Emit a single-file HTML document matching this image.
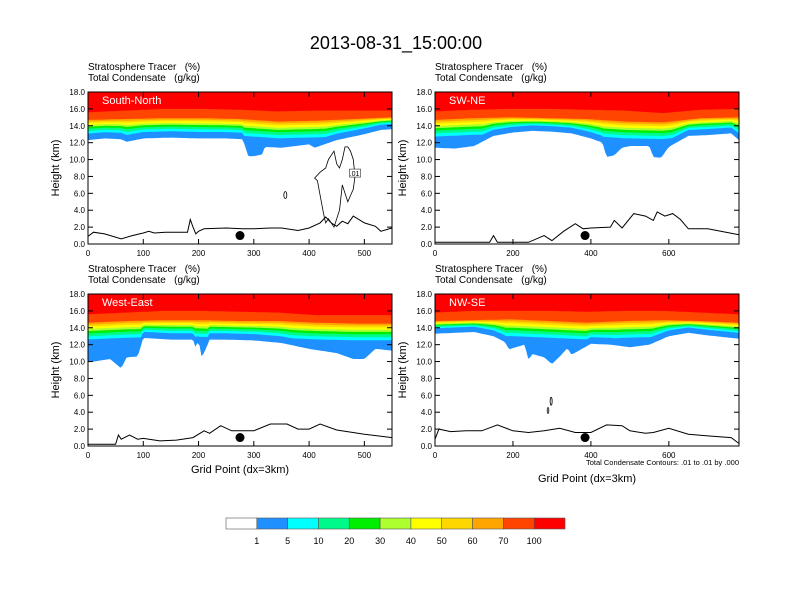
<!DOCTYPE html>
<html><head><meta charset="utf-8"><style>
body{margin:0;background:#fff;}
svg{display:block;font-family:"Liberation Sans",sans-serif;}
</style></head><body>
<svg id="chart" width="792" height="612" xmlns="http://www.w3.org/2000/svg">
<text x="396" y="49" font-size="18" text-anchor="middle">2013-08-31_15:00:00</text>
<text x="739" y="465" font-size="7.5" text-anchor="end">Total Condensate Contours: .01 to .01 by .000</text>
</svg>
<script>
// ---- data ----
const levelLabels = ["1","5","10","20","30","40","50","60","70","100"];
const levelColors = ["#1e90ff","#00ffff","#00fa8a","#00ee00","#adff2f","#ffff00","#ffd700","#ffa500","#ff4500","#ff0000"];
const panelNames = ["South-North","SW-NE","West-East","NW-SE"];
const panelXMax = [550,780,550,780];
const xTicksLeft = [0,100,200,300,400,500];
const xTicksRight = [0,200,400,600];
const yTicks = [0,2,4,6,8,10,12,14,16,18];
// tracer 1% lower boundary (km) at sample grid points
const baseX = [
 [0,30,60,70,100,150,200,250,280,290,300,315,320,350,400,410,450,500,530,550],
 [0,50,100,150,200,250,300,350,400,430,440,460,480,500,550,560,580,600,650,700,760,780],
 [0,10,40,60,70,90,100,150,190,195,200,205,210,220,250,300,350,400,450,480,500,520,550],
 [0,50,100,150,180,190,200,230,240,250,280,300,320,340,350,400,450,500,550,600,650,700,780]
];
const baseH = [
 [12.3,12.5,12.4,12.1,12.5,12.6,12.5,12.5,12.4,10.4,10.4,10.6,11.5,11.4,11.8,11.4,12.3,13.0,13.5,13.6],
 [11.4,11.3,11.6,12.8,13.2,13.4,13.3,13.1,12.5,12.0,10.3,10.5,11.4,11.6,11.6,10.3,10.2,11.5,12.8,12.9,13.1,12.3],
 [10.0,10.0,10.3,9.2,10.5,10.6,12.8,12.6,12.6,11.6,12.6,10.6,11.0,12.6,12.6,12.5,12.2,11.5,11.0,10.3,10.3,11.5,11.3],
 [13.3,13.4,13.5,13.0,12.3,11.4,11.6,12.0,10.2,10.9,10.5,9.7,10.6,11.6,10.8,12.1,12.0,11.7,12.0,13.0,13.4,13.1,12.7]
];
// 70% boundary (orange-red start) and red start
const topH = [
 [14.7,14.8,14.9,14.9,14.8,14.5,14.6,14.8,15.0],
 [14.7,14.9,15.0,14.9,14.8,14.5,14.4,14.9,15.0],
 [14.6,14.8,14.9,14.9,14.8,14.8,14.6,14.5,14.5],
 [14.8,14.9,15.0,14.8,14.6,14.8,14.9,14.8,14.6]
];
const redH = [
 [15.6,15.8,16.0,16.0,15.9,15.7,15.8,15.8,15.8],
 [15.7,15.9,16.0,16.0,15.9,15.8,15.5,15.9,16.0],
 [15.6,15.8,16.0,16.0,15.9,15.8,15.5,15.5,15.5],
 [15.8,16.0,16.0,16.0,15.9,16.0,16.0,15.8,15.6]
];
// terrain height (km)
const terrX = [
 [0,10,30,60,80,100,110,120,140,180,185,190,195,200,210,250,280,300,330,350,380,400,420,430,440,450,460,470,480,500,520,530,550],
 [0,140,150,160,240,280,300,330,360,380,400,450,460,480,510,540,560,570,590,610,630,650,700,780],
 [0,50,55,60,75,90,100,130,160,190,210,220,240,260,300,330,360,380,400,420,450,500,550],
 [0,10,40,80,120,160,200,240,280,320,360,400,440,480,500,540,560,600,650,700,760,780]
];
const terrH = [
 [0.9,1.4,1.2,0.6,1.0,1.3,1.5,1.3,1.4,1.4,2.9,2.0,1.2,1.5,1.8,1.9,1.8,1.8,1.9,1.9,1.6,1.9,2.5,3.2,2.5,2.1,2.7,2.4,3.3,2.5,2.1,1.5,1.9],
 [0.2,0.2,1.0,0.2,0.2,1.0,0.4,1.5,2.4,1.8,1.9,2.0,2.8,1.9,3.6,3.3,2.8,3.8,3.3,3.6,2.9,1.8,1.8,1.1],
 [0.2,0.2,1.3,0.8,1.3,0.8,0.9,0.6,0.7,1.0,1.8,1.5,2.4,1.8,1.8,2.6,2.6,2.0,2.0,2.6,1.9,1.4,1.0],
 [0.8,2.0,1.7,1.8,1.8,2.5,1.8,1.6,1.8,2.1,1.6,1.6,2.5,2.4,1.8,1.5,1.6,2.1,1.4,1.2,1.0,0.3]
];
const dotX = [275,385,275,385];
// condensate contour (top-left panel)
const contourX = [425,415,410,420,430,435,440,445,450,455,460,465,470,475,480,483,480,470,465,460,455,445,435,430,428,425];
const contourH = [4.0,7.5,7.8,8.5,9.0,10.0,10.5,11.0,9.5,9.0,10.0,11.5,11.5,11.0,10.0,8.0,6.5,5.0,6.0,7.0,4.0,2.0,3.0,2.5,3.0,4.0];

// ---- layout ----
const svg = document.getElementById('chart');
const NS = 'http://www.w3.org/2000/svg';
const boxes = [{x:88,y:92},{x:435,y:92},{x:88,y:294},{x:435,y:294}];
const PW = 304, PH = 152;
function mk(tag, attrs, parent){ const e=document.createElementNS(NS,tag); for(const k in attrs) e.setAttribute(k,attrs[k]); (parent||svg).appendChild(e); return e; }
function interp(xs, ys, x){ if(x<=xs[0]) return ys[0]; for(let i=1;i<xs.length;i++){ if(x<=xs[i]){ const t=(x-xs[i-1])/(xs[i]-xs[i-1]); return ys[i-1]+t*(ys[i]-ys[i-1]); } } return ys[ys.length-1]; }
const fracs = [0,0.14,0.3,0.45,0.57,0.68,0.8,0.9];

boxes.forEach((b,p)=>{
  const xm = panelXMax[p];
  const sx = v => b.x + v/xm*PW;
  const sy = h => b.y + PH - h/18*PH;
  const g = mk('g',{});
  
  
  const n = 150;
  const topX = topH[p].map((_,i)=> i*xm/(topH[p].length-1));
  function boundary(level, x){
    const base = interp(baseX[p], baseH[p], x), top = interp(topX, topH[p], x), red = interp(topX, redH[p], x);
    if(level===0) return base;
    if(level<8){ const lo = Math.max(base+0.5, top-2.3); return lo + fracs[level]*(top-lo); }
    if(level===8) return top;
    return red;
  }
  for(let L=0; L<10; L++){
    let pts = [];
    for(let i=0;i<=n;i++){ const x=i*xm/n; pts.push(sx(x).toFixed(1)+','+sy(boundary(L,x)).toFixed(1)); }
    pts.push(sx(xm)+','+sy(18)); pts.push(sx(0)+','+sy(18));
    const poly = mk('polygon',{points:pts.join(' '),fill:levelColors[L]},g);
    
    
  }
  // terrain
  let tp = terrX[p].map((x,i)=> sx(x).toFixed(1)+','+sy(terrH[p][i]).toFixed(1));
  const tl = mk('polyline',{points:tp.join(' '),fill:'none',stroke:'#000','stroke-width':1},g);
  
  
  const dot = mk('circle',{cx:sx(dotX[p]),cy:sy(1.0),r:4.5,fill:'#000'},g);
  
  
  if(p===0){
    const cp = contourX.map((x,i)=> sx(x).toFixed(1)+','+sy(contourH[i]).toFixed(1));
    const c = mk('polyline',{points:cp.join(' '),fill:'none',stroke:'#000','stroke-width':0.8},g);
    
    
    const lb = mk('rect',{x:sx(475)-1,y:sy(8.4)-4,width:11,height:8,fill:'#fff',stroke:'#000','stroke-width':0.5},g);
    
    
    const lt = mk('text',{x:sx(475)+4,y:sy(8.4)+3,'font-size':7,'text-anchor':'middle'},g); lt.textContent='.01';
    
    
    const e = mk('ellipse',{cx:sx(357),cy:sy(5.8),rx:1.5,ry:3.5,fill:'none',stroke:'#000','stroke-width':0.8},g);
    
    
  }
  if(p===3){
    const e = mk('ellipse',{cx:sx(298),cy:sy(5.3),rx:1,ry:4,fill:'none',stroke:'#000','stroke-width':0.8},g);
    
    
    const e2 = mk('ellipse',{cx:sx(290),cy:sy(4.2),rx:0.8,ry:3,fill:'none',stroke:'#000','stroke-width':0.8},g);
    
    
  }
  // frame
  const fr = mk('rect',{x:b.x,y:b.y,width:PW,height:PH,fill:'none',stroke:'#000','stroke-width':1},g);
  
  
  // panel label
  const pl = mk('text',{x:b.x+14,y:b.y+12,'font-size':11,fill:'#fff'},g); pl.textContent=panelNames[p];
  
  
  const h1 = mk('text',{x:b.x,y:b.y-22,'font-size':10},g); h1.textContent='Stratosphere Tracer   (%)';
  
  
  h1.style.whiteSpace='pre';
  const h2 = mk('text',{x:b.x,y:b.y-11,'font-size':10},g); h2.textContent='Total Condensate   (g/kg)';
  
  
  h2.style.whiteSpace='pre';
  // y ticks
  yTicks.forEach(v=>{
    const y=sy(v);
    mk('line',{x1:b.x,x2:b.x+5,y1:y,y2:y,stroke:'#000'},g);
    mk('line',{x1:b.x+PW,x2:b.x+PW-5,y1:y,y2:y,stroke:'#000'},g);
    const t=mk('text',{x:b.x-3,y:y+3,'font-size':8,'text-anchor':'end'},g); t.textContent=v.toFixed(1);
    
    
  });
  const yt = mk('text',{x:0,y:0,'font-size':11,'text-anchor':'middle',transform:`translate(${b.x-29},${b.y+PH/2}) rotate(-90)`},g); yt.textContent='Height (km)';
  
  
  const xt = (p%2===0)?xTicksLeft:xTicksRight;
  xt.forEach(v=>{
    const x=sx(v);
    mk('line',{x1:x,x2:x,y1:b.y+PH,y2:b.y+PH-5,stroke:'#000'},g);
    mk('line',{x1:x,x2:x,y1:b.y,y2:b.y+5,stroke:'#000'},g);
    const t=mk('text',{x:x,y:b.y+PH+12,'font-size':8,'text-anchor':'middle'},g); t.textContent=v;
    
    
  });
  if(p>=2){
    const t=mk('text',{x:b.x+PW/2,y:p===2?473:482,'font-size':11,'text-anchor':'middle'},g); t.textContent='Grid Point (dx=3km)';
    
    
  }
});
// colorbar
const cbColors = ['#ffffff'].concat(levelColors);
const cbX=226, cbW=339, cbY=518, cbH=11, bw=cbW/cbColors.length;
cbColors.forEach((c,i)=>{
  const r=mk('rect',{x:cbX+i*bw,y:cbY,width:bw,height:cbH,fill:c,stroke:'#555','stroke-width':0.6});
  
  
});
levelLabels.forEach((l,i)=>{
  const t=mk('text',{x:cbX+(i+1)*bw,y:cbY+26,'font-size':9,'text-anchor':'middle'}); t.textContent=l;
  
  
});
</script>
</body></html>
